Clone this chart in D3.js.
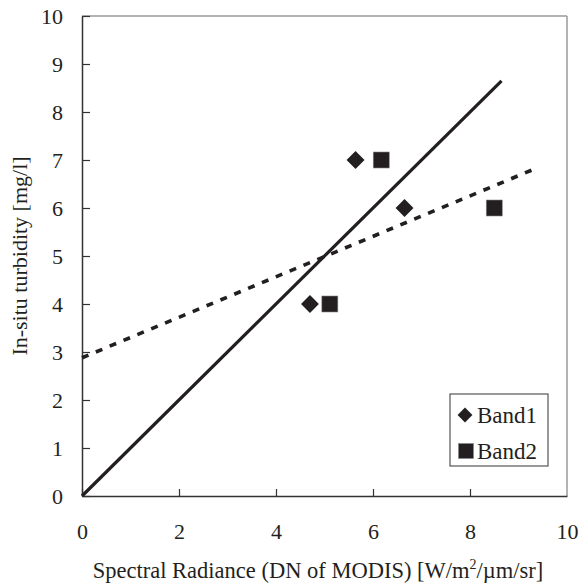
<!DOCTYPE html>
<html>
<head>
<meta charset="utf-8">
<script src="https://cdn.jsdelivr.net/npm/d3@7"></script>
<style>
  body { margin: 0; background: #fff; }
</style>
</head>
<body>
<div id="chart"></div>
<script>
"use strict"

// data
const band1 = [[4.7, 4], [5.64, 7], [6.65, 6]];
const band2 = [[5.11, 4], [6.17, 7], [8.5, 6]];
const solidLine = [[0, 0], [8.65, 8.65]];
const dashedLine = [[0, 2.88], [9.37, 6.83]];
const xTicks = [0, 2, 4, 6, 8, 10];
const yTicks = [0, 1, 2, 3, 4, 5, 6, 7, 8, 9, 10];
const legendLabels = ["Band1", "Band2"];

const W = 579, H = 586;
const m = {left: 82, top: 16, right: 12, bottom: 90};
const iw = W - m.left - m.right;
const ih = H - m.top - m.bottom;
const ink = "#231f20";
const serif = "'Liberation Serif', Tinos, 'Times New Roman', serif";

let svg = d3.select("#chart").append("svg")
  .attr("width", W).attr("height", H);

let x = d3.scaleLinear().domain([0, 10]).range([m.left, m.left + iw]);
let y = d3.scaleLinear().domain([0, 10]).range([m.top + ih, m.top]);

// frame: top and right are grey
svg.append("line").attr("x1", x(0)).attr("x2", x(10)).attr("y1", y(10)).attr("y2", y(10))
  .attr("stroke", "#9a9a9a").attr("stroke-width", 1.5);
svg.append("line").attr("x1", x(10)).attr("x2", x(10)).attr("y1", y(0)).attr("y2", y(10))
  .attr("stroke", "#9a9a9a").attr("stroke-width", 1.5);

// axes with inner ticks
let xAxis = svg.append("g").attr("transform", `translate(0,${y(0)})`)
  .call(d3.axisBottom(x).tickValues(xTicks).tickSizeInner(-7).tickSizeOuter(0).tickPadding(36));
let yAxis = svg.append("g").attr("transform", `translate(${x(0)},0)`)
  .call(d3.axisLeft(y).tickValues(yTicks).tickSizeInner(-8).tickSizeOuter(0).tickPadding(19));

[xAxis, yAxis].forEach((a) => {
  a.attr("font-family", null);
  a.select(".domain").attr("stroke", "#333").attr("stroke-width", 1.5);
  a.selectAll(".tick line").attr("stroke", "#333").attr("stroke-width", 1.2);
  a.selectAll(".tick text").attr("font-size", 22)
    .style("font-family", serif).attr("fill", ink);
});
xAxis.selectAll(".tick text").attr("dy", "0.34em");
// the frame covers the tick at 10
xAxis.selectAll(".tick line").filter((d) => d == 10).remove();

// regression lines
let line = d3.line().x((d) => x(d[0])).y((d) => y(d[1]));
svg.append("path").datum(solidLine).attr("d", line)
  .attr("fill", "none").attr("stroke", ink).attr("stroke-width", 3.2);
svg.append("path").datum(dashedLine).attr("d", line)
  .attr("fill", "none").attr("stroke", ink).attr("stroke-width", 3.6)
  .attr("stroke-dasharray", "7,8");

// points
let diamond = d3.symbol().type(d3.symbolSquare).size(160);
svg.selectAll(".b1").data(band1).enter().append("path")
  .attr("d", diamond)
  .attr("transform", (d) => `translate(${x(d[0])},${y(d[1])}) rotate(45)`)
  .attr("fill", ink);
svg.selectAll(".b2").data(band2).enter().append("rect")
  .attr("x", (d) => x(d[0]) - 8).attr("y", (d) => y(d[1]) - 8)
  .attr("width", 16).attr("height", 16)
  .attr("fill", ink).attr("stroke", "#888").attr("stroke-width", 0.6);

// legend
let lg = svg.append("g");
lg.append("rect").attr("x", 450).attr("y", 394).attr("width", 98).attr("height", 72)
  .attr("fill", "#fff").attr("stroke", "#555").attr("stroke-width", 1.2);
lg.append("path").attr("d", d3.symbol().type(d3.symbolSquare).size(110))
  .attr("transform", "translate(465,415) rotate(45)").attr("fill", ink);
lg.append("rect").attr("x", 458.5).attr("y", 443.5).attr("width", 15).attr("height", 15)
  .attr("fill", ink).attr("stroke", "#888").attr("stroke-width", 0.6);
lg.selectAll("text").data(legendLabels).enter().append("text")
  .attr("x", 477).attr("y", (d, i) => 415 + i * 36).attr("dy", "0.34em")
  .attr("font-size", 23).style("font-family", serif).attr("fill", ink)
  .text((d) => d);

// axis titles
let xt = svg.append("text").attr("x", 318).attr("y", 578)
  .attr("text-anchor", "middle").attr("font-size", 22.5)
  .style("font-family", serif).attr("fill", ink);
xt.append("tspan").text("Spectral Radiance (DN of MODIS) [W/m");
xt.append("tspan").attr("font-size", 14).attr("dy", -9).text("2");
xt.append("tspan").attr("dy", 9).text("/\u00b5m/sr]");

svg.append("text")
  .attr("transform", `translate(27,${(y(0) + y(10)) / 2}) rotate(-90)`)
  .attr("text-anchor", "middle").attr("font-size", 22)
  .style("font-family", serif).attr("fill", ink)
  .text("In-situ turbidity [mg/l]");
</script>
</body>
</html>
